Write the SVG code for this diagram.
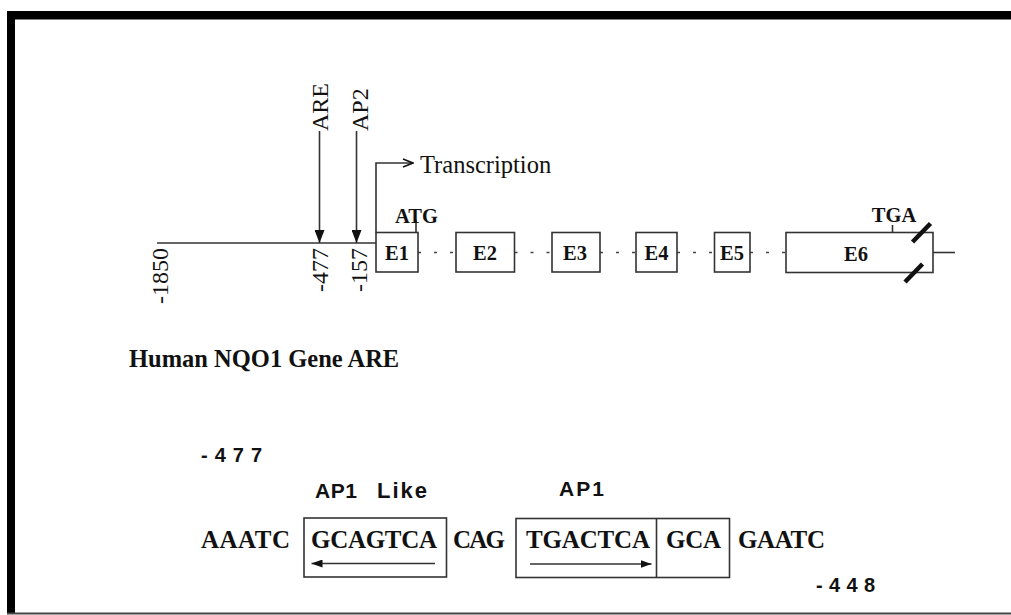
<svg xmlns="http://www.w3.org/2000/svg" width="1011" height="615" viewBox="0 0 1011 615">
<defs>
<style>
.ln{stroke:#333;stroke-width:1.6;fill:none}
.box{stroke:#333;stroke-width:1.6;fill:#fff}
.dot{stroke:#444;stroke-width:1.6;fill:none;stroke-dasharray:3 13}
.serif{font-family:"Liberation Serif","Times New Roman",serif;fill:#111}
.b{font-weight:bold}
.ex{font-family:"Liberation Serif","Times New Roman",serif;font-weight:bold;font-size:20.5px;fill:#111;text-anchor:middle}
.mono{font-family:"Liberation Serif","Courier New",serif;font-weight:bold;font-size:25px;fill:#111}
.sans{font-family:"Liberation Sans",Arial,sans-serif;font-weight:bold;fill:#111}
.slash{stroke:#111;stroke-width:4.5;stroke-linecap:butt}
</style>
<marker id="fa" viewBox="0 0 13 10" refX="13" refY="5" markerWidth="13" markerHeight="10" markerUnits="userSpaceOnUse" orient="auto"><path d="M0,0 L13,5 L0,10 z" fill="#111"/></marker>
<marker id="oa" viewBox="0 0 12 10" refX="11" refY="5" markerWidth="12" markerHeight="10" markerUnits="userSpaceOnUse" orient="auto"><path d="M1,1 L11,5 L1,9" fill="none" stroke="#111" stroke-width="1.6"/></marker>
<marker id="sa" viewBox="0 0 11 8" refX="11" refY="4" markerWidth="11" markerHeight="8" markerUnits="userSpaceOnUse" orient="auto"><path d="M0,0 L11,4 L0,8 z" fill="#111"/></marker>
</defs>
<rect width="1011" height="615" fill="#fff"/>
<g id="frame">
<rect x="7" y="11" width="1004" height="8.5" fill="#000"/>
<rect x="7" y="11" width="8" height="603" fill="#000"/>
<line x1="7" y1="613.5" x2="1011" y2="613.5" stroke="#444" stroke-width="2"/>
</g>
<g id="connectors">
<line class="ln" x1="157" y1="243" x2="376" y2="243"/>
<line class="ln" x1="319.5" y1="131" x2="319.5" y2="243" marker-end="url(#fa)"/>
<line class="ln" x1="356.5" y1="131" x2="356.5" y2="243" marker-end="url(#fa)"/>
<polyline class="ln" points="376,232.5 376,163 413,163" marker-end="url(#oa)"/>
<line class="ln" x1="416" y1="220" x2="416" y2="232.5"/>
<line class="ln" x1="892.5" y1="225" x2="892.5" y2="233"/>
<line class="dot" x1="418" y1="252.5" x2="456" y2="252.5"/>
<line class="dot" x1="514.5" y1="252.5" x2="552" y2="252.5"/>
<line class="dot" x1="600" y1="252.5" x2="636" y2="252.5"/>
<line class="dot" x1="677" y1="252.5" x2="714.5" y2="252.5"/>
<line class="dot" x1="750" y1="252.5" x2="786" y2="252.5"/>
<line class="ln" x1="933" y1="252.5" x2="955" y2="252.5"/>
</g>
<g id="label-ARE"><text class="serif" font-size="24" transform="translate(328,131) rotate(-90)">ARE</text></g>
<g id="label-AP2"><text class="serif" font-size="24" transform="translate(368,131) rotate(-90)">AP2</text></g>
<g id="pos-1850"><text class="serif" font-size="24" text-anchor="end" transform="translate(168,248) rotate(-90)">-1850</text></g>
<g id="pos-477"><text class="serif" font-size="24" text-anchor="end" transform="translate(328,248) rotate(-90)">-477</text></g>
<g id="pos-157"><text class="serif" font-size="24" text-anchor="end" transform="translate(367,248) rotate(-90)">-157</text></g>
<g id="transcription"><text class="serif" font-size="24.5" x="420" y="173">Transcription</text></g>
<g id="ATG"><text class="serif b" font-size="20.5" x="395" y="223">ATG</text></g>
<g id="TGA"><text class="serif b" font-size="20.5" x="894" y="222" text-anchor="middle">TGA</text></g>
<g id="E1"><rect class="box" x="376" y="232.5" width="42" height="39.5"/><text class="ex" x="397" y="260">E1</text></g>
<g id="E2"><rect class="box" x="456" y="232.5" width="58.5" height="39.5"/><text class="ex" x="485" y="260">E2</text></g>
<g id="E3"><rect class="box" x="552" y="232.5" width="48" height="39.5"/><text class="ex" x="575" y="260">E3</text></g>
<g id="E4"><rect class="box" x="636" y="232.5" width="41" height="39.5"/><text class="ex" x="656.5" y="260">E4</text></g>
<g id="E5"><rect class="box" x="714.5" y="232.5" width="35.5" height="39.5"/><text class="ex" x="732" y="260">E5</text></g>
<g id="E6"><rect class="box" x="786" y="232.5" width="147" height="40"/><text class="ex" x="856" y="261">E6</text>
<line class="slash" x1="912.5" y1="242" x2="930.5" y2="223.5"/>
<line class="slash" x1="905" y1="282" x2="922.5" y2="264"/>
</g>
<g id="title"><text class="serif b" font-size="24.5" x="129" y="367">Human NQO1 Gene ARE</text></g>
<g id="seq-start"><text class="sans" font-size="20" x="201" y="462" textLength="61">-477</text></g>
<g id="seq-end"><text class="sans" font-size="20" x="816" y="592" textLength="59">-448</text></g>
<g id="AP1-like">
<text class="sans" font-size="21" x="315" y="498" textLength="42">AP1</text>
<text class="sans" font-size="22" x="377" y="498" textLength="50">Like</text>
<rect class="box" x="304" y="518" width="142.5" height="59"/>
<line class="ln" x1="435" y1="563.5" x2="311.5" y2="563.5" marker-end="url(#sa)"/>
</g>
<g id="AP1">
<text class="sans" font-size="21" x="559" y="496" textLength="45">AP1</text>
<rect class="box" x="516" y="518.5" width="213.5" height="59"/>
<line class="ln" x1="656.5" y1="518.5" x2="656.5" y2="577.5"/>
<line class="ln" x1="530" y1="564" x2="651.5" y2="564" marker-end="url(#sa)"/>
</g>
<g id="sequence">
<text class="mono" x="201" y="548" textLength="89">AAATC</text>
<text class="mono" x="311" y="548" textLength="126">GCAGTCA</text>
<text class="mono" x="453" y="548" textLength="52">CAG</text>
<text class="mono" x="526" y="548" textLength="124">TGACTCA</text>
<text class="mono" x="666" y="548" textLength="55">GCA</text>
<text class="mono" x="738" y="548" textLength="87">GAATC</text>
</g>
</svg>
